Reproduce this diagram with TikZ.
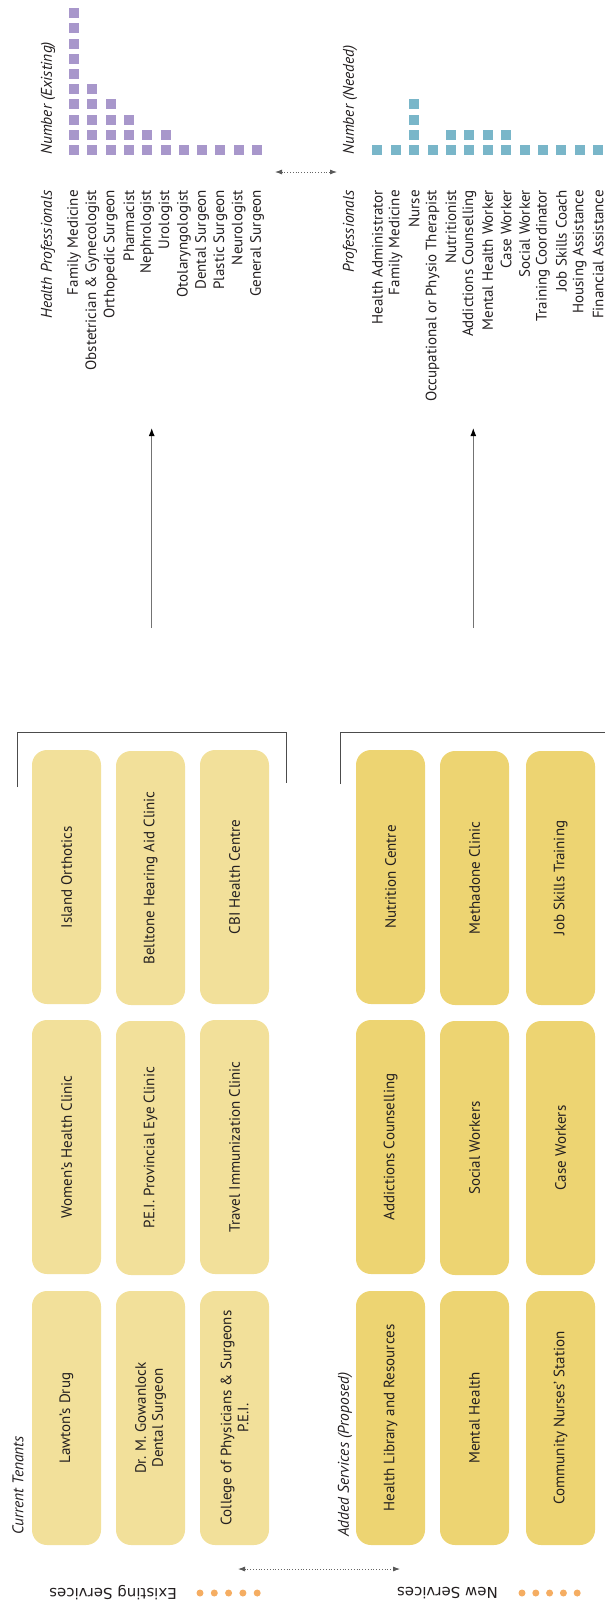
\documentclass[tikz,border=0pt]{standalone}
\usepackage{fontspec}
\setmainfont{PT Sans}
\newfontfamily\widefont{DejaVu Sans}
\usetikzlibrary{arrows.meta}

\definecolor{tenant yellow}{HTML}{F2E09A}
\definecolor{added yellow}{HTML}{EDD472}
\definecolor{existing purple}{HTML}{A897CB}
\definecolor{needed blue}{HTML}{79B6C9}
\definecolor{dot orange}{HTML}{F5AD62}
\definecolor{ink}{HTML}{231F20}

\begin{document}
\begin{tikzpicture}[x=1pt,y=-1pt,
		font=\fontsize{15}{17}\selectfont,text=ink,
		tenant box/.style={rectangle,rounded corners=15pt,fill=tenant yellow,rotate=90,
			minimum width=254pt,minimum height=69pt,align=center,inner sep=2pt},
		added box/.style={tenant box,fill=added yellow},
		chart label/.style={rotate=90,anchor=east,inner sep=0pt},
		title label/.style={rotate=90,inner sep=0pt,font=\fontsize{15.5}{17}\selectfont\itshape},
		existing sq/.style={fill=existing purple},
		needed sq/.style={fill=needed blue},
		bracket/.style={draw=black!70,line width=0.9pt},
		link/.style={draw=black!55,line width=1.1pt,-{Latex[black,length=8pt,width=6pt]}},
		dotted link/.style={draw=black!60,dotted,line width=0.8pt,
			{Latex[black!65,length=7pt,width=5pt]}-{Latex[black!65,length=7pt,width=5pt]}},
		legend text/.style={rotate=180,anchor=west,inner sep=0pt,font=\widefont\fontsize{15}{17}\selectfont},
		legend dot/.style={circle,fill=dot orange,minimum size=7pt,inner sep=0pt}]

		\useasboundingbox (0,0) rectangle (605,1604);

		% existing professionals
		\foreach \n [count=\c] in {10,5,4,3,2,2,1,1,1,1,1}
			\foreach \j in {1,...,\n}
				\fill[existing sq] ({74+18.3*(\c-1)-5},{150-15.2*(\j-1)-5}) rectangle ++(10,10);
		\foreach \name [count=\c] in {Family Medicine,Obstetrician \& Gynecologist,Orthopedic Surgeon,
			Pharmacist,Nephrologist,Urologist,Otolaryngologist,Dental Surgeon,Plastic Surgeon,
			Neurologist,General Surgeon}
			\node[chart label] (ex\c) at ({74+18.3*(\c-1)},190) {\name};
		\node[title label,anchor=west] (ex count) at (48,155) {Number (Existing)};
		\node[title label,anchor=east] (ex title) at (48,190) {Health Professionals};

		% needed professionals
		\foreach \n [count=\c] in {1,1,4,1,2,2,2,2,1,1,1,1,1}
			\foreach \j in {1,...,\n}
				\fill[needed sq] ({377.3+18.4*(\c-1)-5},{150-15.2*(\j-1)-5}) rectangle ++(10,10);
		\foreach \name [count=\c] in {Health Administrator,Family Medicine,Nurse,
			Occupational or Physio Therapist,Nutritionist,Addictions Counselling,Mental Health Worker,
			Case Worker,Social Worker,Training Coordinator,Job Skills Coach,Housing Assistance,
			Financial Assistance}
			\node[chart label] (nd\c) at ({377.3+18.4*(\c-1)},190) {\name};
		\node[title label,anchor=west] (nd count) at (350,155) {Number (Needed)};
		\node[title label,anchor=east] (nd title) at (350,190) {Professionals};

		\coordinate (chart left) at (275,172);
		\coordinate (chart right) at (337,172);
		\draw[dotted link] (chart left) -- (chart right);

		% arrows up to the charts
		\coordinate (tenants foot) at (151.7,628);
		\coordinate (tenants tip) at (151.7,428);
		\coordinate (added foot) at (473.3,628);
		\coordinate (added tip) at (473.3,428);
		\draw[link] (tenants foot) -- (tenants tip);
		\draw[link] (added foot) -- (added tip);

		% brackets
		\coordinate (tb1) at (17,787);
		\coordinate (tb2) at (17,732);
		\coordinate (tb3) at (286,732);
		\coordinate (tb4) at (286,783);
		\draw[bracket] (tb1) -- (tb2) -- (tb3) -- (tb4);
		\coordinate (ab1) at (340,784);
		\coordinate (ab2) at (340,732);
		\coordinate (ab3) at (605,732);
		\draw[bracket] (ab1) -- (ab2) -- (ab3);

		% current tenants
		\node[tenant box] (t11) at (66.5,877) {Island Orthotics};
		\node[tenant box] (t12) at (150.5,878) {Belltone Hearing Aid Clinic};
		\node[tenant box] (t13) at (234.5,877) {CBI Health Centre};
		\node[tenant box] (t21) at (66.5,1147) {Women’s Health Clinic};
		\node[tenant box] (t22) at (150.5,1148) {P.E.I. Provincial Eye Clinic};
		\node[tenant box] (t23) at (234.5,1147) {Travel Immunization Clinic};
		\node[tenant box] (t31) at (66.5,1418) {Lawton’s Drug};
		\node[tenant box] (t32) at (150.5,1418) {Dr. M. Gowanlock\\Dental Surgeon};
		\node[tenant box] (t33) at (234.5,1418) {College of Physicians \& Surgeons\\P.E.I.};
		\node[title label,anchor=west] (tenants title) at (18,1535) {Current Tenants};

		% added services
		\node[added box] (a11) at (390.5,877) {Nutrition Centre};
		\node[added box] (a12) at (474.5,878) {Methadone Clinic};
		\node[added box] (a13) at (560.5,878) {Job Skills Training};
		\node[added box] (a21) at (390.5,1147) {Addictions Counselling};
		\node[added box] (a22) at (474.5,1148) {Social Workers};
		\node[added box] (a23) at (560.5,1148) {Case Workers};
		\node[added box] (a31) at (390.5,1418) {Health Library and Resources};
		\node[added box] (a32) at (474.5,1418) {Mental Health};
		\node[added box] (a33) at (560.5,1418) {Community Nurses’ Station};
		\node[title label,anchor=west] (added title) at (345,1537) {Added Services (Proposed)};

		% legend
		\coordinate (legend left) at (238,1569);
		\coordinate (legend right) at (400,1569);
		\draw[dotted link] (legend left) -- (legend right);
		\node[legend text] (existing legend) at (177,1593) {Existing Services};
		\node[legend text] (new legend) at (498,1593) {New Services};
		\foreach \x [count=\c] in {200,214.3,228.6,242.9,257.2}
			\node[legend dot] (ed\c) at (\x,1593) {};
		\foreach \x [count=\c] in {522,535.8,549.6,563.4,577.2}
			\node[legend dot] (nd dot\c) at (\x,1593) {};
\end{tikzpicture}
\end{document}
